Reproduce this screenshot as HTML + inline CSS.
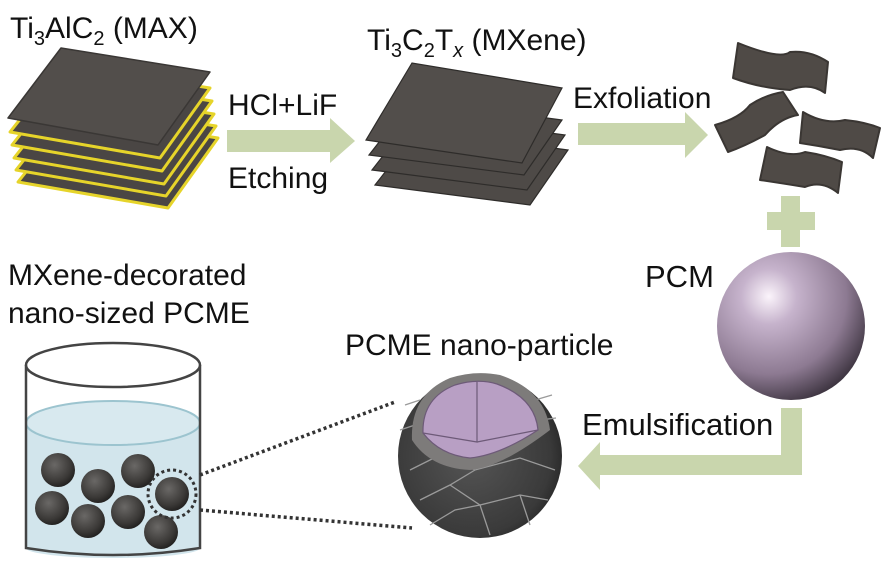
<!DOCTYPE html>
<html><head><meta charset="utf-8"><style>
body{margin:0;background:#fff}
svg text{font-family:"Liberation Sans",Arial,sans-serif;fill:#111}
</style></head><body>
<svg width="886" height="564" viewBox="0 0 886 564" xmlns="http://www.w3.org/2000/svg">
<defs>
<radialGradient id="pcm" cx="0.35" cy="0.3" r="0.75">
<stop offset="0" stop-color="#fbf4fb"/><stop offset="0.25" stop-color="#c6b3cc"/><stop offset="0.7" stop-color="#8d7a92"/><stop offset="1" stop-color="#3d3440"/>
</radialGradient>
<radialGradient id="ball" cx="0.4" cy="0.35" r="0.7">
<stop offset="0" stop-color="#6a6866"/><stop offset="0.7" stop-color="#3a3836"/><stop offset="1" stop-color="#1e1d1c"/>
</radialGradient>
<radialGradient id="shell" cx="0.45" cy="0.5" r="0.6">
<stop offset="0" stop-color="#555"/><stop offset="0.8" stop-color="#3a3a3a"/><stop offset="1" stop-color="#222"/>
</radialGradient>
</defs>

<!-- MAX stack -->
<g stroke-linejoin="round">
<polygon points="18,182 71,115 218,138 168,208" fill="#4a4644" stroke="#e6d42a" stroke-width="3"/>
<polygon points="16,170 69,103 216,126 166,196" fill="#4a4644" stroke="#e6d42a" stroke-width="3"/>
<polygon points="14,158 67,91 214,114 164,184" fill="#4a4644" stroke="#e6d42a" stroke-width="3"/>
<polygon points="12,145 65,78 212,101 162,171" fill="#4a4644" stroke="#e6d42a" stroke-width="3"/>
<polygon points="10,132 63,65 210,88 160,158" fill="#4a4644" stroke="#e6d42a" stroke-width="3"/>
<polygon points="8,118 61,48 210,72 158,145" fill="#524e4b" stroke="#3a3735" stroke-width="1.5"/>
</g>
<text x="10" y="38" font-size="30">Ti<tspan font-size="20" dy="7">3</tspan><tspan dy="-7">AlC</tspan><tspan font-size="20" dy="7">2</tspan><tspan dy="-7"> (MAX)</tspan></text>

<!-- arrow 1 -->
<polygon points="227,130 330,130 330,118 355,141 330,163 330,152 227,152" fill="#c9d6ad"/>
<text x="228" y="115" font-size="30">HCl+LiF</text>
<text x="228" y="188" font-size="30">Etching</text>

<!-- MXene stack -->
<g stroke="#2e2c2a" stroke-width="1.2">
<polygon points="375,185 418,130 568,150 530,205" fill="#4e4a47"/>
<polygon points="372,170 415,115 565,135 527,190" fill="#4e4a47"/>
<polygon points="369,155 412,100 562,120 524,175" fill="#4e4a47"/>
<polygon points="366,140 412,63 562,88 522,163" fill="#524e4b"/>
</g>
<text x="367" y="50" font-size="30">Ti<tspan font-size="20" dy="7">3</tspan><tspan dy="-7">C</tspan><tspan font-size="20" dy="7">2</tspan><tspan dy="-7">T</tspan><tspan font-size="20" dy="7" font-style="italic">x</tspan><tspan dy="-7"> (MXene)</tspan></text>

<!-- arrow 2 -->
<polygon points="578,123 685,123 685,112 708,135 685,158 685,145 578,145" fill="#c9d6ad"/>
<text x="573" y="108" font-size="30">Exfoliation</text>

<!-- flakes -->
<g fill="#4f4a46" stroke="#3a3633" stroke-width="2" stroke-linejoin="round">
<path d="M738,43 Q780,60 790,52 Q810,50 828,62 L825,93 Q810,82 790,90 Q760,88 733,78 Z"/>
<path d="M715,125 Q740,118 750,105 Q765,95 783,92 L798,115 Q780,118 765,135 Q745,146 728,152 Z"/>
<path d="M803,112 Q825,125 845,120 Q865,122 880,128 L873,158 Q860,145 840,150 Q820,146 800,143 Z"/>
<path d="M767,147 Q790,158 805,152 Q825,155 842,162 L838,193 Q822,180 805,187 Q780,183 760,180 Z"/>
</g>

<!-- plus -->
<rect x="781" y="196" width="19" height="51" fill="#c9d6ad"/>
<rect x="767" y="212" width="48" height="18" fill="#c9d6ad"/>

<!-- PCM -->
<circle cx="791" cy="326" r="74" fill="url(#pcm)"/>
<text x="645" y="287" font-size="31">PCM</text>

<!-- emulsification arrow -->
<polygon points="781,408 802,408 802,475 600,475 600,490 578,466 600,442 600,455 781,455" fill="#c9d6ad"/>
<text x="582" y="435" font-size="31">Emulsification</text>

<!-- particle -->
<circle cx="480" cy="456" r="82" fill="url(#shell)"/>
<g stroke="#9a9a9a" stroke-width="1.3" fill="none">
<path d="M410,470 L440,455 L475,470 L520,458 L555,470"/>
<path d="M420,500 L450,485 L475,470 M450,485 L480,505 L520,495 L548,500"/>
<path d="M430,525 L455,510 L480,505 M480,505 L490,535 M520,495 L530,525"/>
<path d="M400,430 L415,425 M405,405 L420,400 M540,420 L556,418 M535,400 L552,395"/>
</g>
<path d="M412,440 Q410,395 450,378 Q475,370 500,375 Q545,390 550,430 Q500,468 470,470 Q430,468 412,440 Z" fill="#7d7b7a"/>
<path d="M423,433 Q422,398 455,385 Q478,378 497,384 Q535,398 538,430 Q500,455 470,458 Q440,455 423,433 Z" fill="#b89fc4" stroke="#6d5a78" stroke-width="1.2"/>
<path d="M477,382 L477,442 L423,433 M477,442 L538,430" stroke="#6d5a78" stroke-width="1.2" fill="none"/>
<text x="345" y="355" font-size="30">PCME nano-particle</text>

<!-- beaker -->
<path d="M26,423 A87,22 0 0 1 200,423 L200,548 A87,10 0 0 1 26,548 Z" fill="#d2e5ec"/>
<ellipse cx="113" cy="423" rx="87" ry="22" fill="#d8e9ef" stroke="#9cc4cf" stroke-width="2"/>
<g fill="url(#ball)">
<circle cx="58" cy="470" r="17"/><circle cx="98" cy="486" r="17"/><circle cx="138" cy="471" r="17"/>
<circle cx="52" cy="508" r="17"/><circle cx="88" cy="521" r="17"/><circle cx="128" cy="512" r="17"/>
<circle cx="172" cy="494" r="17"/><circle cx="161" cy="532" r="17"/>
</g>
<circle cx="172" cy="494" r="24" fill="none" stroke="#333" stroke-width="3" stroke-dasharray="3,3"/>
<path d="M26,365 L26,548 Q113,562 200,548 L200,365" fill="none" stroke="#444" stroke-width="2.5"/>
<ellipse cx="113" cy="365" rx="87" ry="22" fill="#fff" stroke="#444" stroke-width="2.5"/>
<g stroke="#333" stroke-width="3.5" stroke-dasharray="3,3">
<line x1="200" y1="475" x2="395" y2="402"/>
<line x1="200" y1="510" x2="412" y2="528"/>
</g>
<text x="8" y="285" font-size="30">MXene-decorated</text>
<text x="8" y="323" font-size="30">nano-sized PCME</text>
</svg>
</body></html>
